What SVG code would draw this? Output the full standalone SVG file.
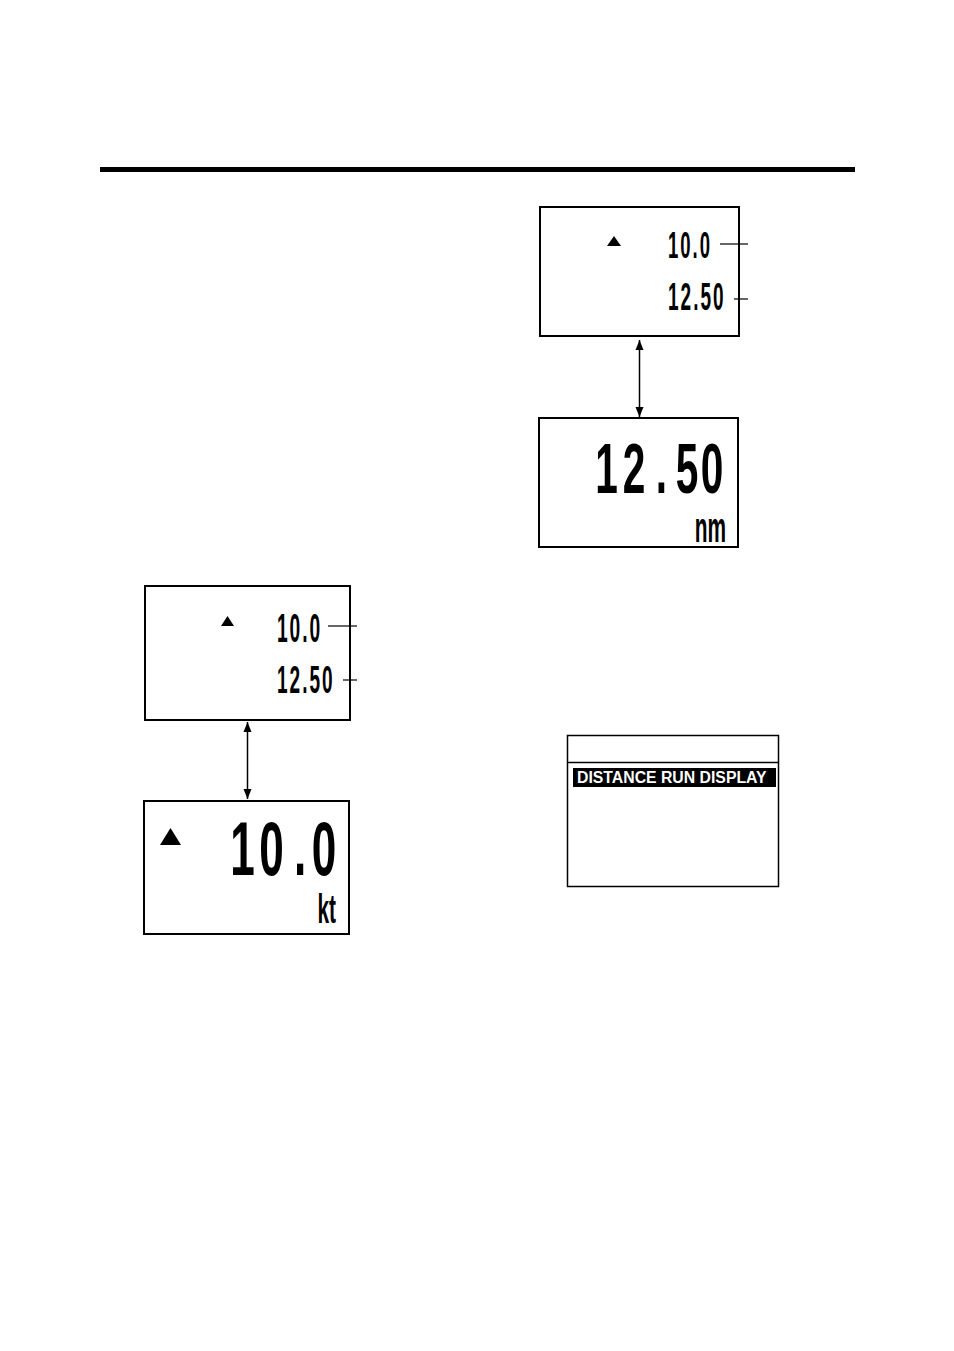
<svg xmlns="http://www.w3.org/2000/svg" width="954" height="1351" viewBox="0 0 954 1351">
<style>
.box{fill:#fff;stroke:#000;stroke-width:2}
.ld{stroke:#000;stroke-width:1.2;fill:none}
.t{font-family:"Liberation Sans",Arial,sans-serif;font-weight:bold;fill:#000}
.c{text-anchor:middle}
</style>
<defs>
<marker id="ah" viewBox="0 0 10 10" refX="10" refY="5" markerWidth="10" markerHeight="10" markerUnits="userSpaceOnUse" orient="auto-start-reverse">
<path d="M0,1 L10,5 L0,9 Z" fill="#000"/>
</marker>
</defs>
<rect width="954" height="1351" fill="#fff"/>
<rect x="100" y="167" width="755" height="5" fill="#000"/>

<g id="box-top-right">
<rect class="box" x="540" y="207" width="199" height="129"/>
<path d="M607,246 L614,236 L621,246 Z" fill="#000"/>
<text class="t" font-size="37" letter-spacing="4" transform="translate(668,258) scale(0.5,1)">10.0</text>
<text class="t" font-size="38" letter-spacing="4" transform="translate(668,310) scale(0.5,1)">12.50</text>
<line class="ld" x1="720" y1="244" x2="748" y2="244"/>
<line class="ld" x1="734" y1="299" x2="748" y2="299"/>
</g>

<g id="box-distance">
<rect class="box" x="539" y="418" width="199" height="129"/>
<g class="t c" font-size="70">
<text transform="translate(606.5,493) scale(0.58,1)">1</text>
<text transform="translate(634,493) scale(0.58,1)">2</text>
<text transform="translate(661.5,493) scale(0.58,1)">.</text>
<text transform="translate(687,493) scale(0.58,1)">5</text>
<text transform="translate(712,493) scale(0.58,1)">0</text>
</g>
<text class="t" font-size="38" text-anchor="end" transform="translate(726,542) scale(0.55,1.12)">nm</text>
</g>

<g id="box-left-top">
<rect class="box" x="145" y="586" width="205" height="134"/>
<path d="M221,626 L227.5,616 L234,626 Z" fill="#000"/>
<text class="t" font-size="40" letter-spacing="4" transform="translate(277,642) scale(0.48,1)">10.0</text>
<text class="t" font-size="38" letter-spacing="4" transform="translate(277,693) scale(0.5,1)">12.50</text>
<line class="ld" x1="328" y1="626" x2="357" y2="626"/>
<line class="ld" x1="343" y1="680" x2="357" y2="680"/>
</g>

<g id="box-speed">
<rect class="box" x="144" y="801" width="205" height="133"/>
<path d="M160,845 L170.5,828 L181,845 Z" fill="#000"/>
<g class="t c" font-size="76">
<text transform="translate(242.5,875) scale(0.58,1)">1</text>
<text transform="translate(271.5,875) scale(0.58,1)">0</text>
<text transform="translate(300,875) scale(0.58,1)">.</text>
<text transform="translate(324,875) scale(0.58,1)">0</text>
</g>
<text class="t" font-size="36" text-anchor="end" transform="translate(336,923) scale(0.58,1.15)">kt</text>
</g>

<g id="box-menu">
<rect x="567.5" y="735.5" width="211" height="151" fill="#fff" stroke="#000" stroke-width="1.5"/>
<line x1="568" y1="762.5" x2="779" y2="762.5" stroke="#000" stroke-width="1.5"/>
<rect x="573" y="768" width="203" height="19" fill="#000"/>
<text class="t" font-size="15.8" x="577" y="783" style="fill:#fff">DISTANCE RUN DISPLAY</text>
</g>

<g id="connectors">
<line x1="639.5" y1="340" x2="639.5" y2="417" stroke="#000" stroke-width="1.5" marker-start="url(#ah)" marker-end="url(#ah)"/>
<line x1="247.5" y1="722" x2="247.5" y2="799" stroke="#000" stroke-width="1.5" marker-start="url(#ah)" marker-end="url(#ah)"/>
</g>
</svg>
